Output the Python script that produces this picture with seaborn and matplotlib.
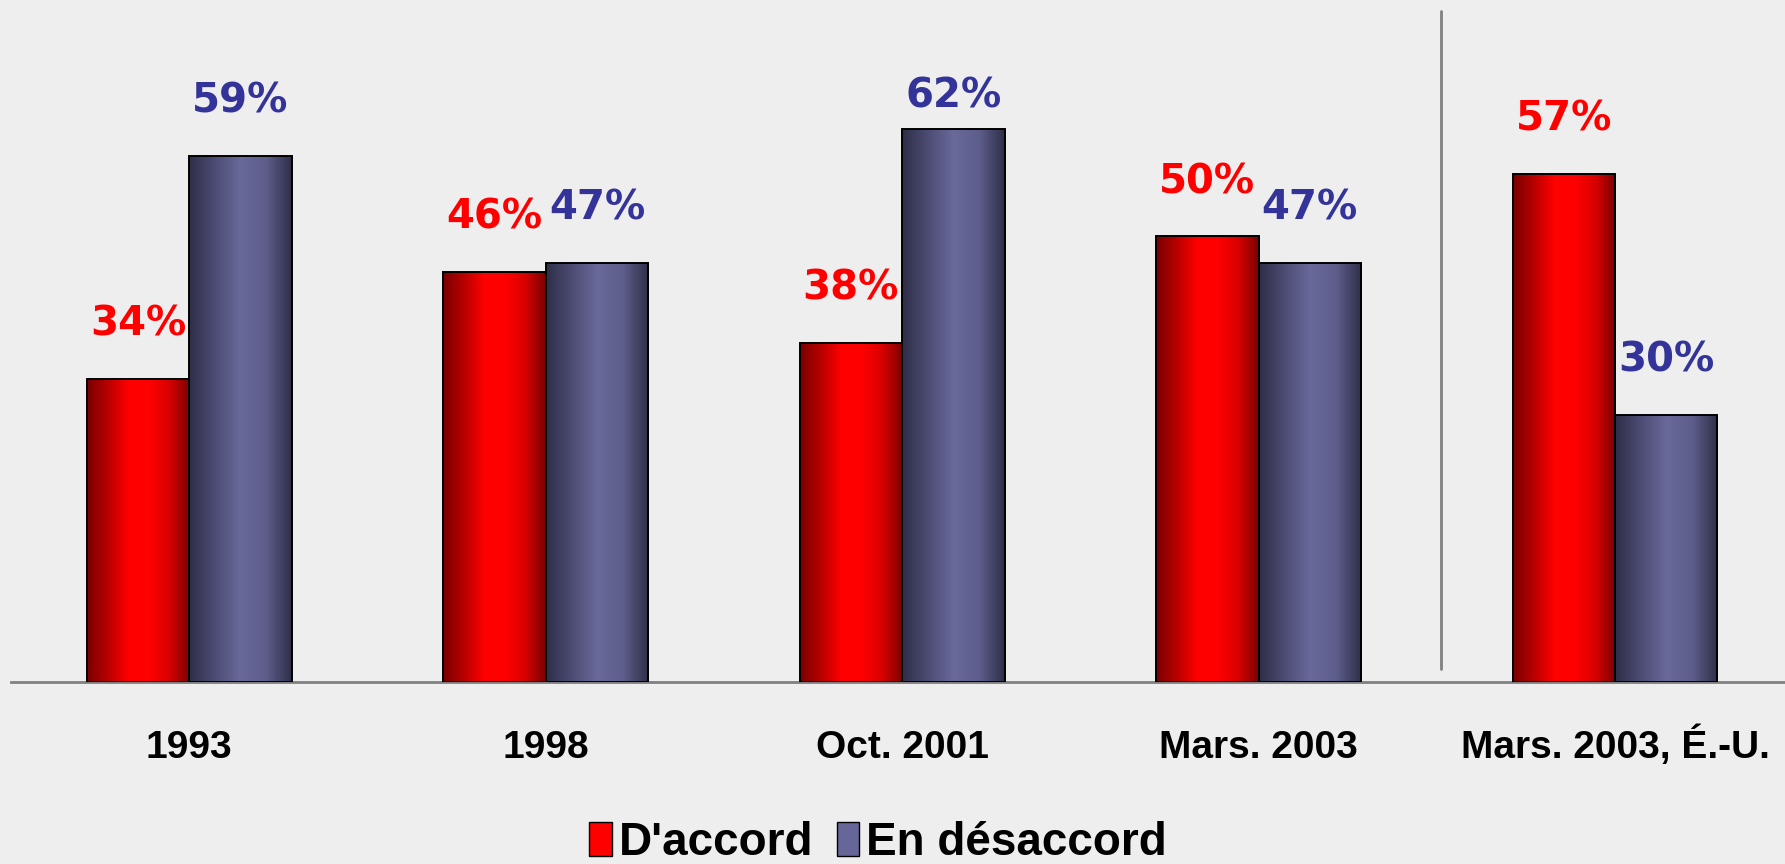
import numpy as np
import pandas as pd
import matplotlib
matplotlib.use('Agg')
import matplotlib.pyplot as plt
import seaborn as sns
from matplotlib.colors import LinearSegmentedColormap
from matplotlib.patches import Patch

# data
periods = ['1993', '1998', 'Oct. 2001', 'Mars. 2003', 'Mars. 2003, É.-U.']
accord = [34, 46, 38, 50, 57]
desaccord = [59, 47, 62, 47, 30]
series = ["D'accord", 'En désaccord']

df = pd.DataFrame({
    'Période': periods * 2,
    'Réponse': [series[0]] * len(periods) + [series[1]] * len(periods),
    'Pourcentage': accord + desaccord,
})

sns.set_theme(style='white')
plt.rcParams['font.family'] = ['Liberation Sans', 'DejaVu Sans']
plt.rcParams['text.color'] = 'black'

bg = '#eeeeee'
fig = plt.figure(figsize=(17.85, 8.64), dpi=100)
fig.patch.set_facecolor(bg)
ax = fig.add_axes([11 / 1785, 182 / 864, 1 - 11 / 1785, 682 / 864])
ax.set_facecolor(bg)

sns.barplot(data=df, x='Période', y='Pourcentage', hue='Réponse',
            palette=['#ff0000', '#666699'], width=0.575, ax=ax,
            legend=False, edgecolor='black', linewidth=1.4)

# cylinder-like horizontal gradients
red_cmap = LinearSegmentedColormap.from_list('r', ['#7a0000', '#b80000', '#ff0000', '#ff0000', '#d80000', '#7a0000'])
blue_cmap = LinearSegmentedColormap.from_list('b', ['#2e2e48', '#4c4c74', '#69699a', '#5e5e8c', '#2e2e48'])
label_colors = ['#ff0000', '#333399']
grad = np.linspace(0, 1, 256)[np.newaxis, :]

for cont, cmap, lc in zip(ax.containers, [red_cmap, blue_cmap], label_colors):
    for bar in cont:
        x0, w, h = bar.get_x(), bar.get_width(), bar.get_height()
        im = ax.imshow(grad, extent=[x0, x0 + w, 0, h], aspect='auto',
                       cmap=cmap, zorder=2, interpolation='bicubic')
        im.set_clip_path(bar)
        bar.set_facecolor('none')
        bar.set_zorder(3)
        # labels sit above the bar, but never above the top band
        ax.text(x0 + w / 2, min(h + 4.85, 64.4), f'{int(h)}%',
                ha='center', va='baseline', fontsize=29, fontweight='bold',
                family='DejaVu Sans', color=lc)

# separator before the US column
ax.axvline(3.512, ymin=0.019, ymax=0.984, color='#808080', lw=2)

ax.set_xlim(-0.5, 4.477)
ax.set_ylim(0, 76.5)
ax.set_xlabel('')
ax.set_ylabel('')
ax.set_yticks([])
for s in ['top', 'right', 'left']:
    ax.spines[s].set_visible(False)
ax.spines['bottom'].set_color('#808080')
ax.spines['bottom'].set_linewidth(2)
ax.tick_params(axis='x', length=0, pad=55, labelsize=28, labelcolor='black')
for t in ax.get_xticklabels():
    t.set_fontweight('bold')
    t.set_va('baseline')

# legend
handles = [Patch(facecolor='#ff0000', edgecolor='black'),
           Patch(facecolor='#666699', edgecolor='black')]
fig.legend(handles=handles, labels=series, loc='center',
           bbox_to_anchor=(0.492, 1 - 843 / 864), ncol=2, frameon=False,
           prop={'weight': 'bold', 'size': 33}, handlelength=0.5,
           handleheight=0.75, handletextpad=0.15, columnspacing=0.5,
           labelcolor='black')

fig.savefig('out.png', dpi=100, facecolor=bg)
